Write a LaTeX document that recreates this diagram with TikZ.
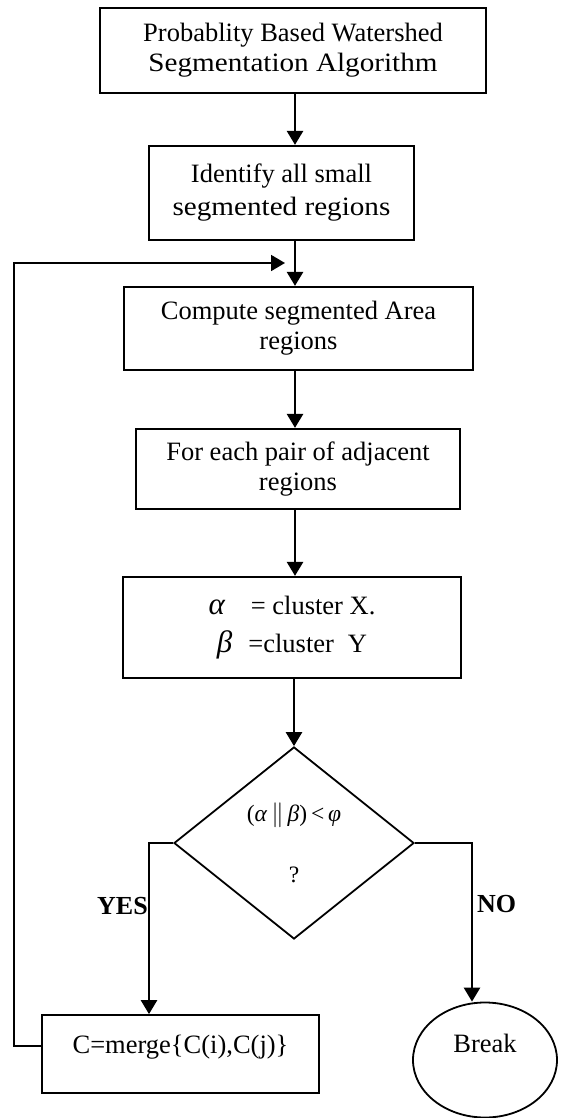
\documentclass[tikz,border=0pt]{standalone}
\usepackage{fontspec}
\setmainfont{Liberation Serif}
\newfontfamily\widefont[FakeStretch=1.1]{Liberation Serif}
\usetikzlibrary{shapes.geometric,arrows.meta}
\begin{document}
\begin{tikzpicture}[x=1pt,y=-1pt,
  box/.style={draw, line width=2.2pt, inner sep=0pt, align=center, font=\fontsize{26.5}{30}\selectfont},
  arr/.style={line width=2.6pt, -{Triangle[length=14pt,width=16pt]}},
  fbarr/.style={line width=1.8pt, -{Triangle[length=14pt,width=16pt]}},
  lbl/.style={inner sep=0pt, font=\fontsize{26}{30}\selectfont\bfseries}]
\useasboundingbox (0,0) rectangle (564,1118);
% spine and helper coordinates
\coordinate (sp) at (295,0);
\coordinate (yx) at (149,0);
\coordinate (nx) at (472,0);
\coordinate (fbl) at (14,1046);
\coordinate (fbt) at (285,263);
% nodes
\node[box, minimum width=386pt, minimum height=85pt] (b1) at (293,50.5)
  {Probablity Based Watershed\\{\widefont Segmentation Algorithm}};
\node[box, minimum width=265pt, minimum height=94pt, font=\fontsize{26.5}{33}\selectfont] (b2) at (281.5,193)
  {Identify all small\\{\widefont segmented regions}};
\node[box, minimum width=349pt, minimum height=83pt] (b3) at (298.5,328.5)
  {Compute segmented Area\\regions};
\node[box, minimum width=324pt, minimum height=80pt] (b4) at (298,469)
  {For each pair of adjacent\\regions};
\node[box, minimum width=338pt, minimum height=101pt, font=\fontsize{26.5}{38}\selectfont] (b5) at (292,627.5)
  {{\fontsize{31}{38}\selectfont\itshape α}\hspace{26pt}= cluster X.\\{\fontsize{31}{38}\selectfont\itshape β}\hspace{16pt}=cluster\hspace{14pt}Y};
\node[draw, diamond, line width=1.8pt, minimum width=240pt, minimum height=192pt, inner sep=0pt, align=center,
  font=\fontsize{23.5}{61}\selectfont] (dia) at (294,843)
  {(\textit{α}\,$\|$\,\textit{β})\,<\,\textit{φ}\\?};
\node[box, line width=1.8pt, minimum width=277pt, minimum height=78pt, text height=20pt, text depth=22pt] (b6) at (180.5,1054)
  {C=merge\{C(i),C(j)\}};
\node[draw, ellipse, line width=1.8pt, minimum width=144pt, minimum height=115pt, inner sep=0pt,
  font=\fontsize{26.5}{30}\selectfont, text height=17.5pt, text depth=33.5pt] (brk) at (485,1060) {Break};
\node[lbl, anchor=base east] (yes) at (148,914) {YES};
\node[lbl, anchor=base west] (no) at (477,912) {NO};
% connectors
\draw[arr] (b1.south -| sp) -- (b2.north -| sp);
\draw[arr] (b2.south -| sp) -- (b3.north -| sp);
\draw[arr] (b3.south -| sp) -- (b4.north -| sp);
\draw[arr] (b4.south -| sp) -- (b5.north -| sp);
\draw[arr] (b5.south -| dia.north) -- (dia.north);
\draw[arr] (dia.west) -| (b6.north -| yx);
\draw[arr] (dia.east) -| (brk.north -| nx);
\draw[fbarr] (b6.west |- fbl) -- (fbl) |- (fbt);
\end{tikzpicture}
\end{document}
